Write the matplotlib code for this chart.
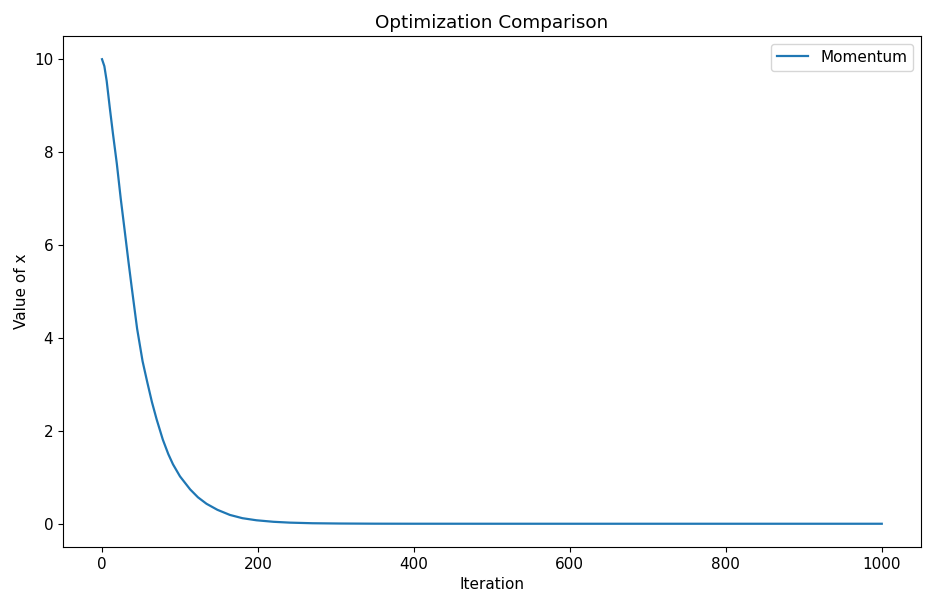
import matplotlib
matplotlib.use("Agg")
import matplotlib.pyplot as plt

iterations = [0, 3, 6, 10, 14, 19, 24, 29, 34, 38, 45, 52, 58, 64, 70, 78, 85, 91, 100, 113, 123, 134, 148, 164, 180, 198, 220, 241, 270, 305, 350, 400, 500, 600, 700, 800, 900, 1000]
values = [10.0, 9.85, 9.53, 8.95, 8.4, 7.75, 7.0, 6.32, 5.63, 5.1, 4.2, 3.5, 3.05, 2.62, 2.25, 1.81, 1.5, 1.28, 1.02, 0.74, 0.57, 0.43, 0.30, 0.19, 0.12, 0.075, 0.042, 0.024, 0.011, 0.005, 0.0015, 0.0005, 0.0001, 0.0, 0.0, 0.0, 0.0, 0.0]

plt.rcParams["font.size"] = 11

fig = plt.figure(figsize=(9.31, 6.05), dpi=100)
ax = fig.add_axes([0.0677, 0.0959, 0.9213, 0.8446])
ax.plot(iterations, values, label="Momentum", color="#1f77b4", linewidth=1.6)
ax.set_title("Optimization Comparison")
ax.set_xlabel("Iteration")
ax.set_ylabel("Value of x")
ax.legend(loc="upper right")
fig.savefig("out.png", dpi=100)
